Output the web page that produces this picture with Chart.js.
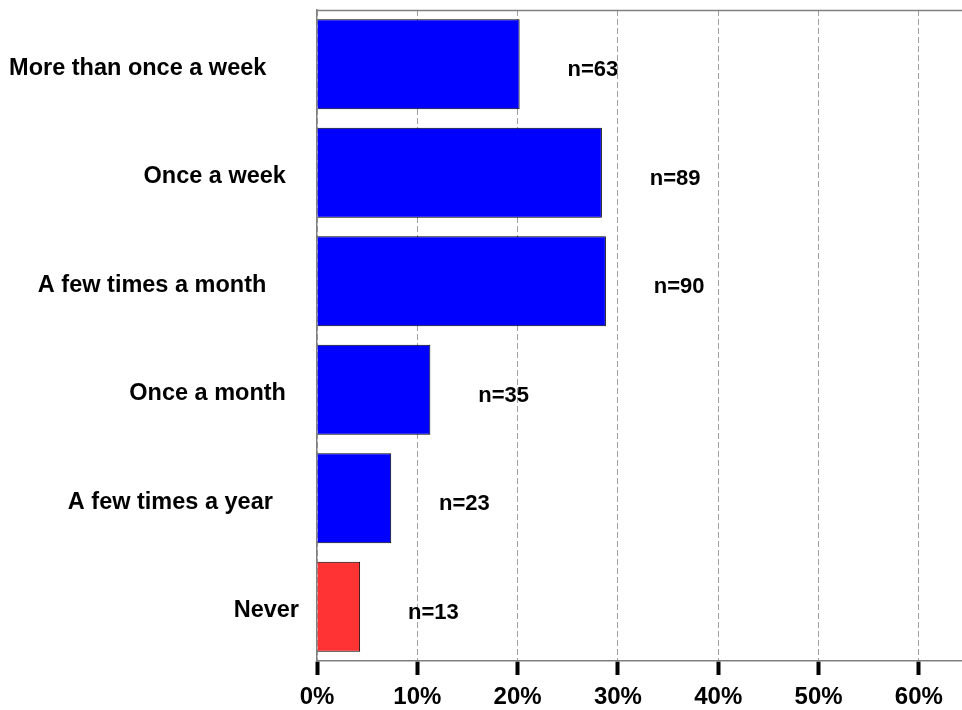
<!DOCTYPE html>
<html>
<head>
<meta charset="utf-8">
<script src="https://cdn.jsdelivr.net/npm/chart.js@4/dist/chart.umd.min.js"></script>
<style>
  html, body { margin: 0; padding: 0; background: #ffffff; }
  #wrap { position: relative; width: 962px; height: 710px; }
</style>
</head>
<body>
<div id="wrap"><canvas id="c"></canvas></div>
<script>
// ---- data ----
const categories = [
  "More than once a week     ",
  "Once a week  ",
  "A few times a month     ",
  "Once a month  ",
  "A few times a year    ",
  "Never"
];
const percentValues = [20.2, 28.4, 28.8, 11.3, 7.4, 4.3];
const counts = [63, 89, 90, 35, 23, 13];
const tickValues = [0, 10, 20, 30, 40, 50, 60];
const barColors = ["#0000FF", "#0000FF", "#0000FF", "#0000FF", "#0000FF", "#FF3333"];

const FONT = "'Liberation Sans', Arial, Helvetica, sans-serif";

const countLabels = {
  id: 'countLabels',
  afterDatasetsDraw(chart) {
    const ctx = chart.ctx;
    const xs = chart.scales.x;
    const meta = chart.getDatasetMeta(0);
    ctx.save();
    ctx.font = "bold 22px " + FONT;
    ctx.fillStyle = "#000";
    ctx.textAlign = "center";
    ctx.textBaseline = "middle";
    meta.data.forEach((bar, i) => {
      const x = xs.getPixelForValue(percentValues[i] + 7.3);
      ctx.fillText("n=" + counts[i], x, bar.y + 6);
    });
    ctx.restore();
  }
};

const frameTop = {
  id: 'frameTop',
  beforeDatasetsDraw(chart) {
    const {ctx, chartArea} = chart;
    ctx.save();
    ctx.strokeStyle = "#808080";
    ctx.lineWidth = 1.5;
    ctx.beginPath();
    ctx.moveTo(chartArea.left, chartArea.top + 0.5);
    ctx.lineTo(chartArea.right, chartArea.top + 0.5);
    ctx.stroke();
    ctx.restore();
  }
};

new Chart(document.getElementById('c'), {
  type: 'bar',
  data: {
    labels: categories,
    datasets: [{
      data: percentValues,
      backgroundColor: barColors,
      borderColor: "#000000",
      borderWidth: 1,
      barPercentage: 0.83,
      categoryPercentage: 1.0
    }]
  },
  options: {
    indexAxis: 'y',
    responsive: true,
    maintainAspectRatio: false,
    animation: false,
    layout: { padding: { top: 10, right: 0, bottom: 0, left: 0 } },
    plugins: {
      legend: { display: false },
      tooltip: { enabled: false }
    },
    scales: {
      x: {
        type: 'linear',
        min: 0,
        max: 64.3,
        afterBuildTicks(scale) {
          scale.ticks = tickValues.map(v => ({ value: v }));
        },
        afterFit(scale) {
          scale.height = 49;
          scale.paddingLeft = 0;
          scale.paddingRight = 0;
        },
        ticks: {
          callback: v => v + '%',
          color: '#000',
          font: { family: FONT, size: 24, weight: 'bold' },
          padding: 8,
          maxRotation: 0,
          autoSkip: false
        },
        grid: {
          color: '#a0a0a0',
          lineWidth: 1,
          drawTicks: true,
          tickLength: 14,
          tickWidth: 4,
          tickColor: '#000',
          tickBorderDash: []
        },
        border: { display: true, color: '#808080', width: 1.5, dash: [6, 3] }
      },
      y: {
        afterFit(scale) {
          scale.width = 317;
          scale.paddingTop = 0;
          scale.paddingBottom = 0;
        },
        ticks: {
          color: '#000',
          font: { family: FONT, size: 23.5, weight: 'bold' },
          padding: 18,
          labelOffset: 4,
          autoSkip: false
        },
        grid: { display: false, drawTicks: false },
        border: { display: true, color: '#808080', width: 1.5 }
      }
    }
  },
  plugins: [countLabels, frameTop]
});
</script>
</body>
</html>
